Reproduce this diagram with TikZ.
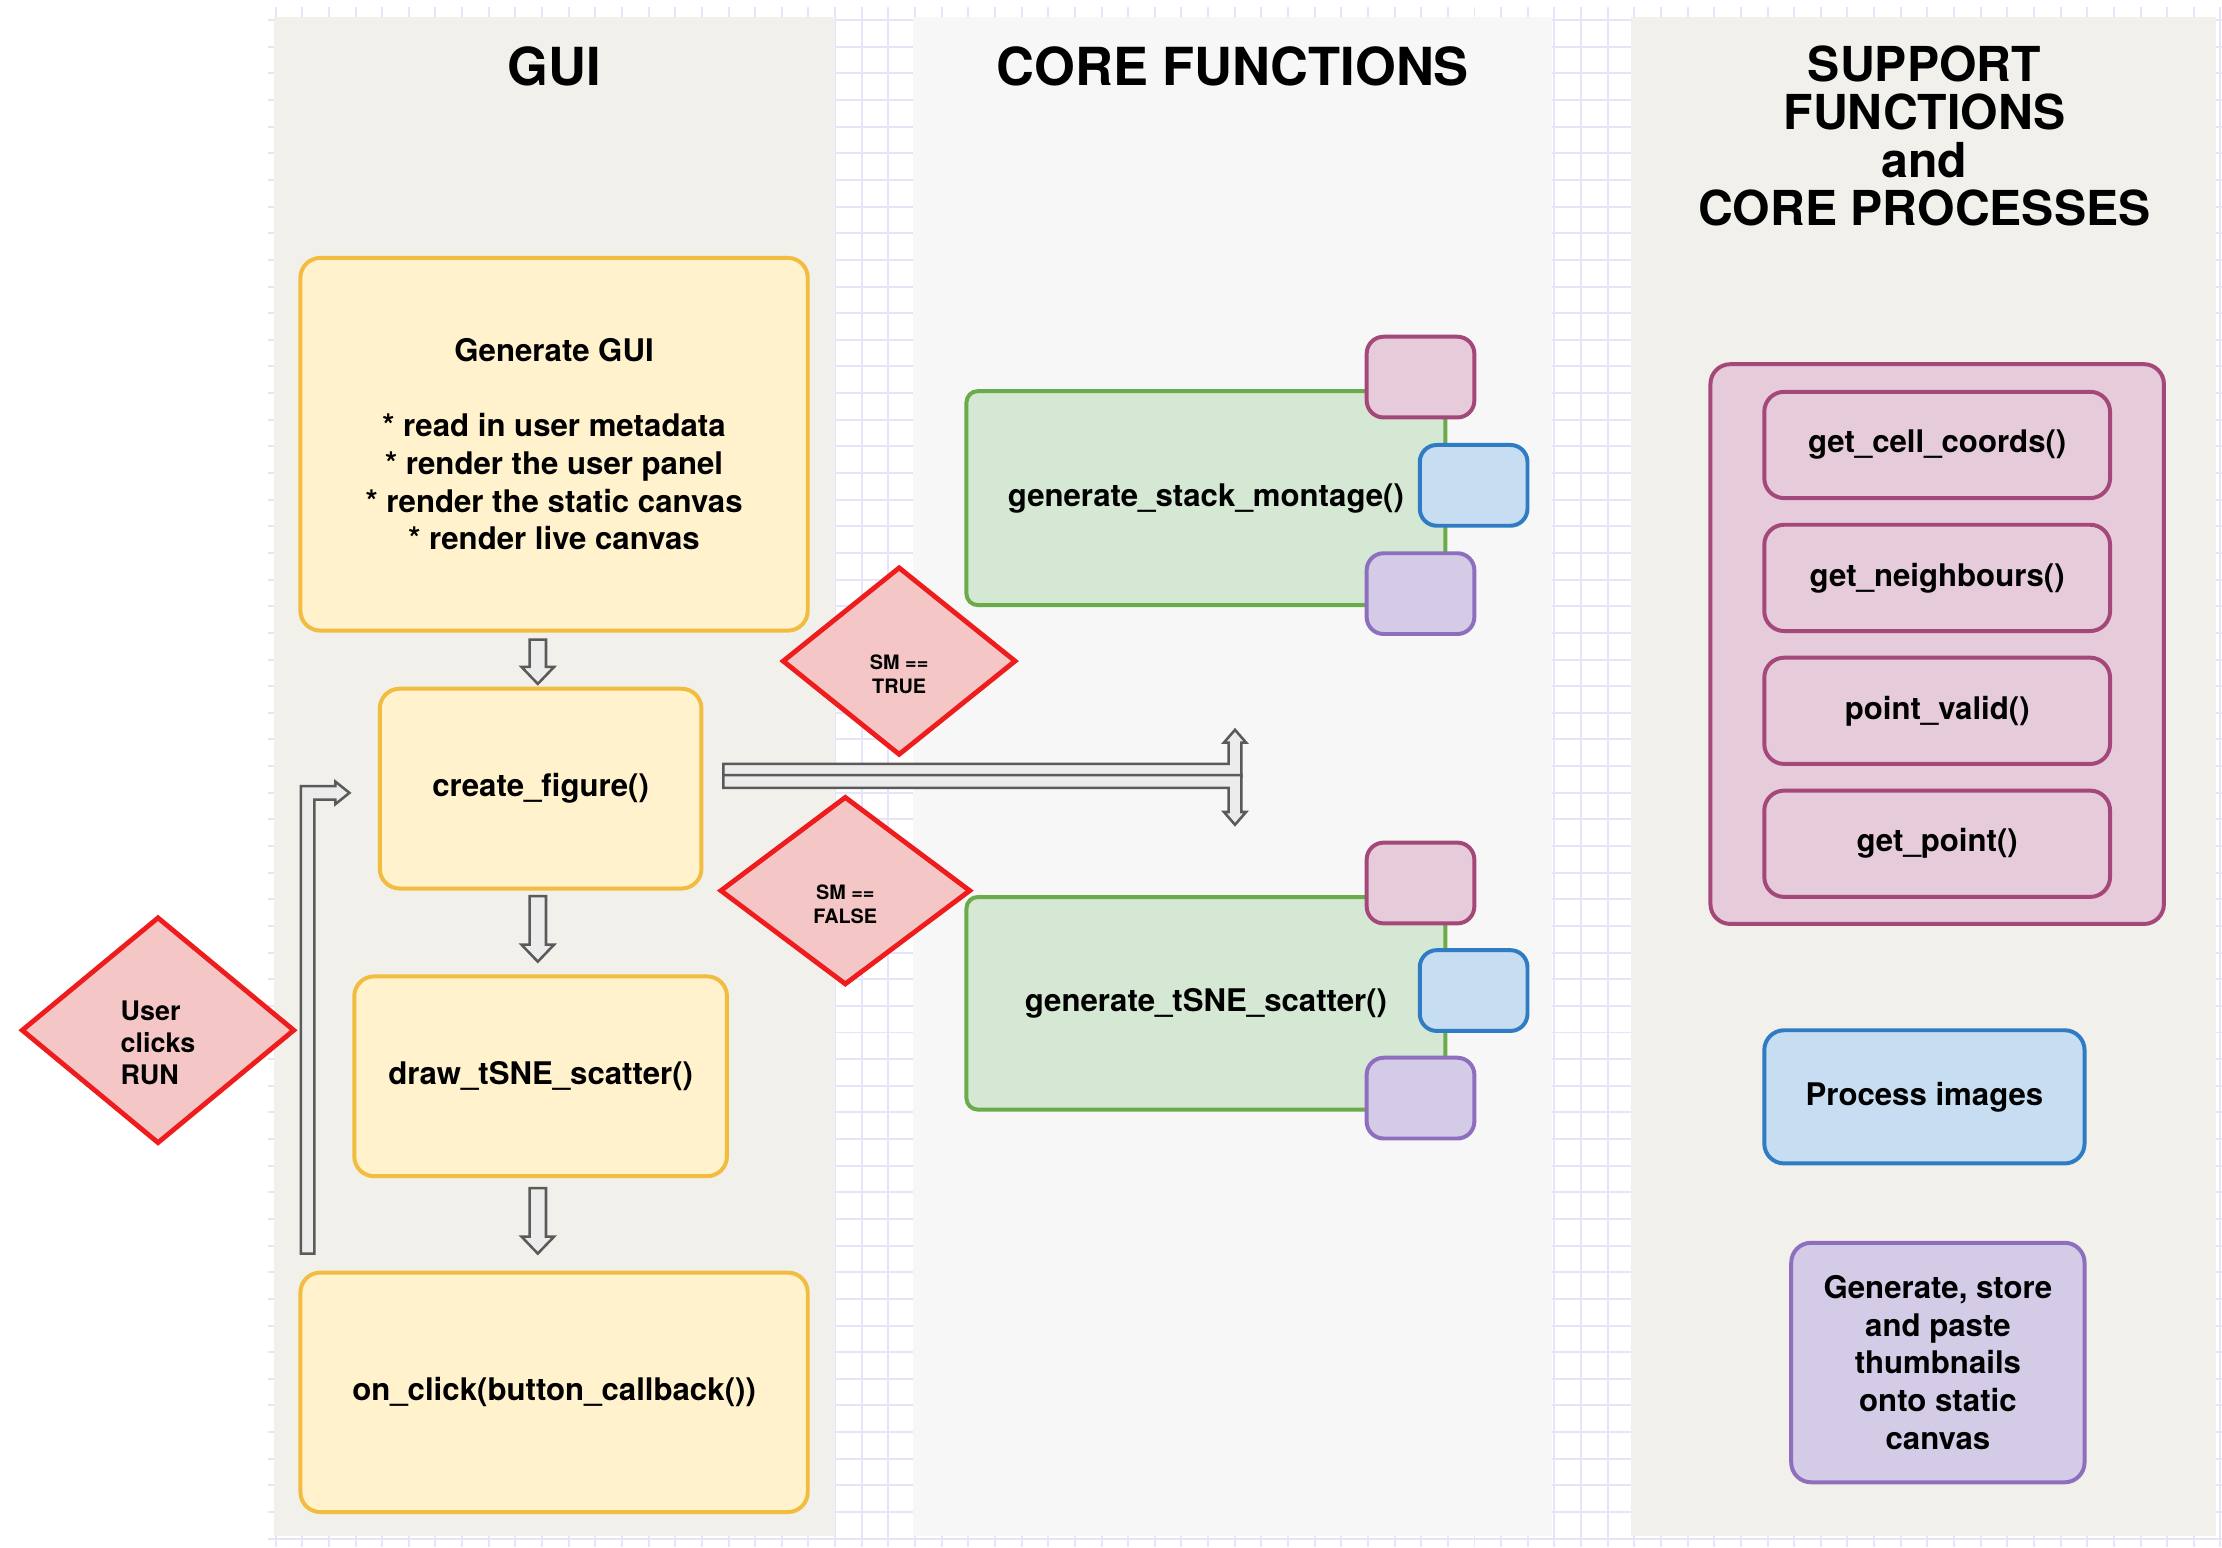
\documentclass[tikz,border=0pt]{standalone}
\usepackage{fontspec}
\setmainfont{TeX Gyre Heros}
\usetikzlibrary{positioning, shapes.geometric, calc}

\definecolor{laneBeige}{HTML}{F2F0EA}
\definecolor{laneGrey}{HTML}{F7F7F7}
\definecolor{gridLine}{HTML}{E6E4FB}
\definecolor{guiFill}{HTML}{FFF2CC}
\definecolor{guiEdge}{HTML}{F1BC3F}
\definecolor{coreFill}{HTML}{D5E8D4}
\definecolor{coreEdge}{HTML}{6AAB4B}
\definecolor{supFill}{HTML}{E6CBDA}
\definecolor{supEdge}{HTML}{A4487A}
\definecolor{procFill}{HTML}{C7DDF1}
\definecolor{procEdge}{HTML}{2F7CC4}
\definecolor{thumbFill}{HTML}{D4CBE6}
\definecolor{thumbEdge}{HTML}{8E6FBE}
\definecolor{decFill}{HTML}{F4C6C6}
\definecolor{decEdge}{HTML}{EE1C1C}
\definecolor{arrowEdge}{HTML}{5A5A5A}
\definecolor{arrowFill}{HTML}{ECECEC}

\newcommand{\BodyFont}{\fontsize{11}{13.25}\selectfont\bfseries}
\newcommand{\DecText}[2]{\raisebox{-5.5pt}[\height][\depth]{\begin{tabular}{@{}#1@{}}#2\end{tabular}}}
\newcommand{\BlockDown}[2]{%
  \draw[blockarrow] let \p1=(#1), \p2=(#2) in
    (\x1-2.9pt,\y1) -- (\x1+2.9pt,\y1) -- (\x1+2.9pt,\y2+6pt) -- (\x1+5.75pt,\y2+6pt)
    -- (\x1,\y2) -- (\x1-5.75pt,\y2+6pt) -- (\x1-2.9pt,\y2+6pt) -- cycle;}

\begin{document}
\begin{tikzpicture}[x=0.5pt, y=-0.5pt, node distance=8pt,
    gridline/.style={draw=gridLine, line width=0.7pt},
    lanetitle/.style={font=\fontsize{18.5}{20}\selectfont\bfseries, align=center},
    guibox/.style={draw=guiEdge, fill=guiFill, line width=1.4pt, rounded corners=7pt, align=center, font=\BodyFont},
    corebox/.style={draw=coreEdge, fill=coreFill, line width=1.4pt, rounded corners=4pt, align=center, font=\BodyFont},
    supbox/.style={draw=supEdge, fill=supFill, line width=1.4pt, rounded corners=7pt, align=center, font=\BodyFont},
    procbox/.style={draw=procEdge, fill=procFill, line width=1.4pt, rounded corners=7pt, align=center, font=\BodyFont},
    thumbbox/.style={draw=thumbEdge, fill=thumbFill, line width=1.4pt, rounded corners=7pt, align=center, font=\BodyFont},
    smallbox/.style={minimum width=38pt, minimum height=28.5pt, rounded corners=6pt},
    decision/.style={diamond, draw=decEdge, fill=decFill, line width=1.7pt, inner sep=0pt},
    blockarrow/.style={draw=arrowEdge, fill=arrowFill, line width=0.9pt, line join=miter}]
  \useasboundingbox (0,0) rectangle (1568,1092);

  % Grid and lanes
  \foreach \gx in {194.5,213.3,...,1568} \draw[gridline] (\gx,5) -- (\gx,1092);
  \foreach \gy in {14.2,33,...,1092} \draw[gridline] (189,\gy) -- (1568,\gy);
  \fill[laneBeige] (193,12) rectangle (589,1084);
  \fill[laneGrey] (644,12) rectangle (1095,1084);
  \fill[laneBeige] (1151,12) rectangle (1564,1084);

  \node[lanetitle] (GuiTitle) at (391,47) {GUI};
  \node[lanetitle] (CoreTitle) at (870,47) {CORE FUNCTIONS};
  \node[lanetitle, font=\fontsize{17}{17}\selectfont\bfseries] (SupTitle) at (1358,96)
    {SUPPORT\\FUNCTIONS\\and\\CORE PROCESSES};

  % GUI
  \node[guibox, minimum width=179pt, minimum height=131.5pt] (GenGUI) at (391,313.5)
    {Generate GUI\\[13.25pt]* read in user metadata\\* render the user panel\\* render the static canvas\\* render live canvas};
  \node[guibox, minimum width=113.5pt, minimum height=70.5pt] (CreateFig) at (381.5,556.5) {create\_figure()};
  \node[guibox, minimum width=131.5pt, minimum height=70.5pt] (DrawTsne) at (381.5,759.5) {draw\_tSNE\_scatter()};
  \node[guibox, minimum width=179pt, minimum height=84.5pt] (OnClick) at (391,982.5) {on\_click(button\_callback())};

  % Core functions
  \node[corebox, minimum width=169pt, minimum height=75.5pt] (Montage) at (851,351.5) {generate\_stack\_montage()};
  \node[corebox, minimum width=169pt, minimum height=75pt] (Scatter) at (851,708) {generate\_tSNE\_scatter()};
  \foreach \g in {Montage, Scatter} {
    \node[supbox, smallbox] (\g Pink) at ($(\g.north east)+(-19,-8.5)$) {};
    \node[procbox, smallbox] (\g Blue) at ($(\g.east)+(18.5,-9)$) {};
    \node[thumbbox, smallbox] (\g Purple) at ($(\g.south east)+(-19,-9.5)$) {};
  }

  % Support functions and core processes
  \node[supbox, minimum width=160pt, minimum height=197.5pt] (SupGroup) at (1367,454.5) {};
  \node[supbox, minimum width=122pt, minimum height=37.5pt] (CellCoords) at (1367,314) {get\_cell\_coords()};
  \node[supbox, minimum width=122pt, minimum height=37.5pt, below=of CellCoords] (Neighbours) {get\_neighbours()};
  \node[supbox, minimum width=122pt, minimum height=37.5pt, below=of Neighbours] (PointValid) {point\_valid()};
  \node[supbox, minimum width=122pt, minimum height=37.5pt, below=of PointValid] (GetPoint) {get\_point()};
  \node[procbox, minimum width=113pt, minimum height=47pt] (ProcImages) at (1358,774) {Process images};
  \node[thumbbox, minimum width=103.5pt, minimum height=84.5pt] (Thumbs) at (1367.5,961.5)
    {Generate, store\\and paste\\thumbnails\\onto static\\canvas};

  % Decisions
  \node[decision, minimum width=96.5pt, minimum height=80pt] (UserRun) at (111.5,727)
    {\fontsize{9.5}{11.25}\selectfont\bfseries\DecText{l}{User\\clicks\\RUN}};
  \node[decision, minimum width=82.5pt, minimum height=66.5pt] (SmTrue) at (634.5,466.5)
    {\fontsize{7}{8.5}\selectfont\bfseries\DecText{c}{SM ==\\TRUE}};
  \node[decision, minimum width=88.5pt, minimum height=66.5pt] (SmFalse) at (596.5,628.5)
    {\fontsize{7}{8.5}\selectfont\bfseries\DecText{c}{SM ==\\FALSE}};

  % Arrows
  \BlockDown{$(GenGUI.south -| CreateFig.north)+(-2,5)$}{$(CreateFig.north)+(-2,-2)$}
  \BlockDown{$(CreateFig.south)+(-2,4)$}{$(DrawTsne.north)+(-2,-9)$}
  \BlockDown{$(DrawTsne.south)+(-2,7)$}{$(OnClick.north -| DrawTsne.south)+(-2,-12)$}

  \draw[blockarrow] let \p1=($(OnClick.north west)+(6.5,-12)$), \p2=($(CreateFig.west)+(-20,3)$) in
    (\x1-2.4pt,\y1) -- (\x1-2.4pt,\y2+2.4pt) -- (\x2-5pt,\y2+2.4pt) -- (\x2-5pt,\y2+4pt) -- (\x2,\y2)
    -- (\x2-5pt,\y2-4pt) -- (\x2-5pt,\y2-2.4pt) -- (\x1+2.4pt,\y2-2.4pt) -- (\x1+2.4pt,\y1) -- cycle;

  \coordinate (SplitUp) at (871.5,515);
  \coordinate (SplitDown) at (871.5,582);
  \draw[blockarrow] let \p1=($(CreateFig.east)+(14,-13)$), \p2=(SplitUp) in
    (\x1,\y1+2.25pt) -- (\x2-2.25pt,\y1+2.25pt) -- (\x2-2.25pt,\y2-4.5pt) -- (\x2-3.9pt,\y2-4.5pt) -- (\x2,\y2)
    -- (\x2+3.9pt,\y2-4.5pt) -- (\x2+2.25pt,\y2-4.5pt) -- (\x2+2.25pt,\y1-2.25pt) -- (\x1,\y1-2.25pt) -- cycle;
  \draw[blockarrow] let \p1=($(CreateFig.east)+(14,-5)$), \p2=(SplitDown) in
    (\x1,\y1-2.25pt) -- (\x2-2.25pt,\y1-2.25pt) -- (\x2-2.25pt,\y2+4.5pt) -- (\x2-3.9pt,\y2+4.5pt) -- (\x2,\y2)
    -- (\x2+3.9pt,\y2+4.5pt) -- (\x2+2.25pt,\y2+4.5pt) -- (\x2+2.25pt,\y1+2.25pt) -- (\x1,\y1+2.25pt) -- cycle;
\end{tikzpicture}
\end{document}
